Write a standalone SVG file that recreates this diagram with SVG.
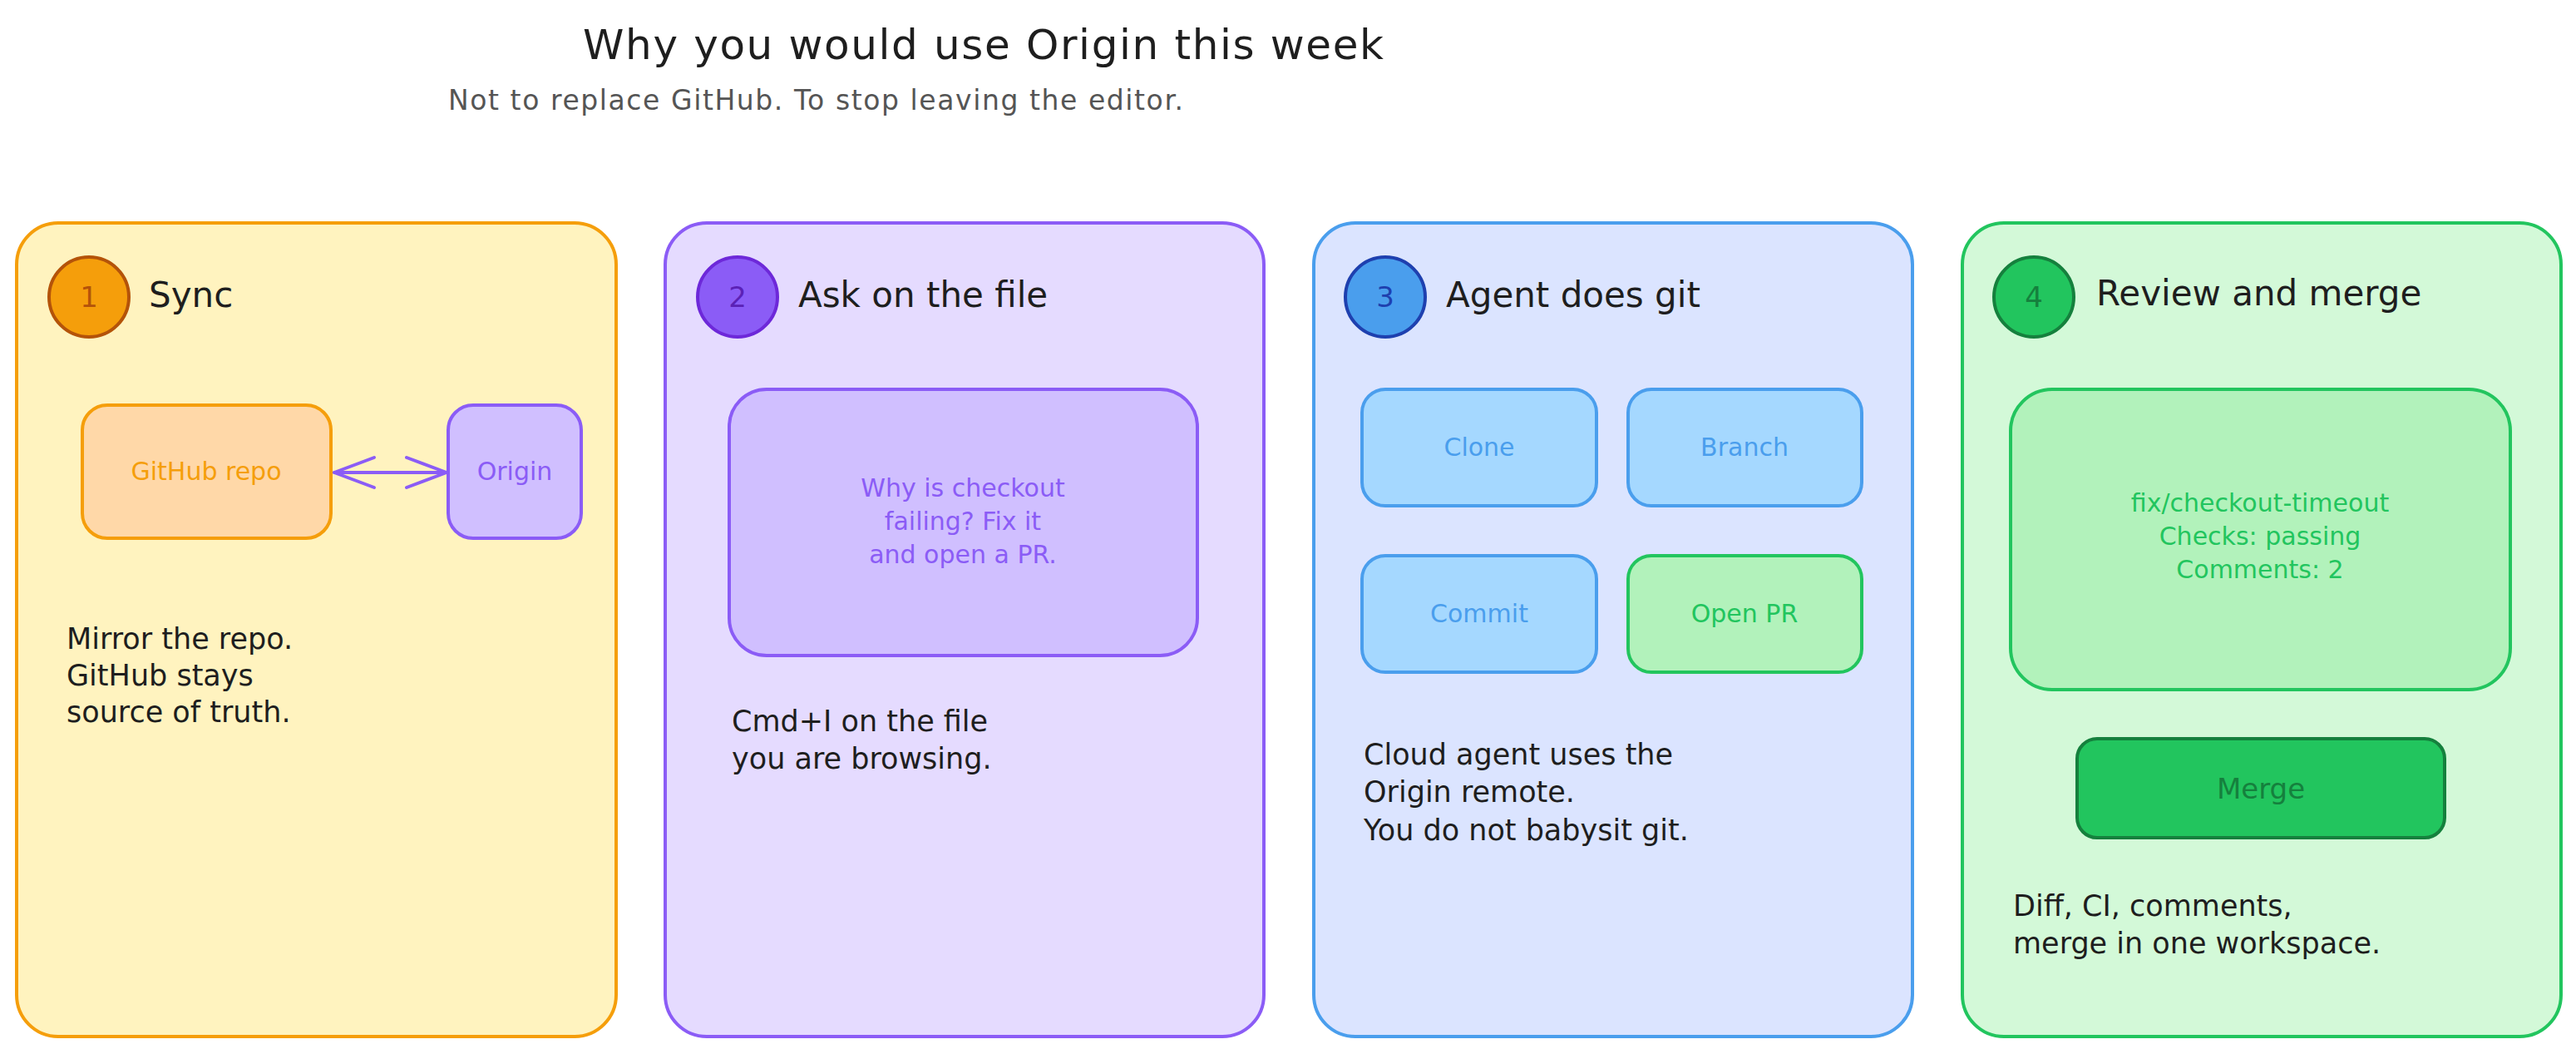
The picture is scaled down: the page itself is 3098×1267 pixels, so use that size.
<svg xmlns="http://www.w3.org/2000/svg" width="3098" height="1267" viewBox="0 0 3098 1267">
<defs>
<style>
text{font-family:"DejaVu Sans","Liberation Sans",sans-serif;}
.ttl{font-size:50px;fill:#1e1e1e;}
.sub{font-size:33px;fill:#555555;}
.head{font-size:42px;fill:#1e1e1e;}
.body{font-size:35px;fill:#1e1e1e;}
.lbl{font-size:30px;text-anchor:middle;}
.num{font-size:34px;text-anchor:middle;}
.panel{stroke-width:4;}
.box{stroke-width:4;}
.orange{fill:#fff3bf;stroke:#f59e0b;}
.violet{fill:#e5dbff;stroke:#8b5cf6;}
.blue{fill:#dbe4ff;stroke:#4a9eed;}
.green{fill:#d3f9d8;stroke:#22c55e;}
</style>
<marker id="arr" viewBox="-54 -24 60 48" refX="0" refY="0" markerWidth="60" markerHeight="48" markerUnits="userSpaceOnUse" orient="auto-start-reverse">
<path d="M-48,-18 L0,0 L-48,18" fill="none" stroke="#8b5cf6" stroke-width="4" stroke-linecap="round" stroke-linejoin="round"/>
</marker>
</defs>
<rect width="3098" height="1267" fill="#ffffff"/>

<g id="title">
<text class="ttl" x="701" y="71" textLength="963" lengthAdjust="spacing">Why you would use Origin this week</text>
<text class="sub" x="539" y="132" textLength="884" lengthAdjust="spacing">Not to replace GitHub. To stop leaving the editor.</text>
</g>

<g id="panel-sync">
<rect class="panel orange" x="20" y="268" width="721" height="978" rx="50"/>
<circle cx="107" cy="357" r="48" fill="#f59e0b" stroke="#b45309" stroke-width="4"/>
<text class="num" x="107" y="369" fill="#b45309">1</text>
<text class="head" x="179" y="369">Sync</text>
<text class="body" x="80" y="780">Mirror the repo.</text>
<text class="body" x="80" y="824">GitHub stays</text>
<text class="body" x="80" y="868">source of truth.</text>
</g>
<g id="node-github">
<rect class="box" x="99" y="487" width="299" height="160" rx="30" fill="#ffd8a8" stroke="#f59e0b"/>
<text class="lbl" x="248" y="577" fill="#f59e0b">GitHub repo</text>
</g>
<g id="node-origin">
<rect class="box" x="539" y="487" width="160" height="160" rx="30" fill="#d0bfff" stroke="#8b5cf6"/>
<text class="lbl" x="619" y="577" fill="#8b5cf6">Origin</text>
</g>

<g id="panel-ask">
<rect class="panel violet" x="800" y="268" width="720" height="978" rx="50"/>
<circle cx="887" cy="357" r="48" fill="#8b5cf6" stroke="#6d28d9" stroke-width="4"/>
<text class="num" x="887" y="369" fill="#5b21b6">2</text>
<text class="head" x="960" y="369">Ask on the file</text>
<text class="body" x="880" y="879">Cmd+I on the file</text>
<text class="body" x="880" y="924">you are browsing.</text>
</g>
<g id="node-ask-prompt">
<rect class="box" x="877" y="468" width="563" height="320" rx="45" fill="#d0bfff" stroke="#8b5cf6"/>
<text class="lbl" x="1158" y="597" fill="#8b5cf6">Why is checkout</text>
<text class="lbl" x="1158" y="637" fill="#8b5cf6">failing? Fix it</text>
<text class="lbl" x="1158" y="677" fill="#8b5cf6">and open a PR.</text>
</g>

<g id="panel-agent">
<rect class="panel blue" x="1580" y="268" width="720" height="978" rx="50"/>
<circle cx="1666" cy="357" r="48" fill="#4a9eed" stroke="#1e40af" stroke-width="4"/>
<text class="num" x="1666" y="369" fill="#1e40af">3</text>
<text class="head" x="1739" y="369">Agent does git</text>
<text class="body" x="1640" y="919">Cloud agent uses the</text>
<text class="body" x="1640" y="964">Origin remote.</text>
<text class="body" x="1640" y="1010">You do not babysit git.</text>
</g>
<g id="node-clone">
<rect class="box" x="1638" y="468" width="282" height="140" rx="28" fill="#a5d8ff" stroke="#4a9eed"/>
<text class="lbl" x="1779" y="548" fill="#4a9eed">Clone</text>
</g>
<g id="node-branch">
<rect class="box" x="1958" y="468" width="281" height="140" rx="28" fill="#a5d8ff" stroke="#4a9eed"/>
<text class="lbl" x="2098" y="548" fill="#4a9eed">Branch</text>
</g>
<g id="node-commit">
<rect class="box" x="1638" y="668" width="282" height="140" rx="28" fill="#a5d8ff" stroke="#4a9eed"/>
<text class="lbl" x="1779" y="748" fill="#4a9eed">Commit</text>
</g>
<g id="node-openpr">
<rect class="box" x="1958" y="668" width="281" height="140" rx="28" fill="#b2f2bb" stroke="#22c55e"/>
<text class="lbl" x="2098" y="748" fill="#22c55e">Open PR</text>
</g>

<g id="panel-review">
<rect class="panel green" x="2360" y="268" width="720" height="978" rx="50"/>
<circle cx="2446" cy="357" r="48" fill="#22c55e" stroke="#15803d" stroke-width="4"/>
<text class="num" x="2446" y="369" fill="#15803d">4</text>
<text class="head" x="2521" y="367">Review and merge</text>
<text class="body" x="2421" y="1101">Diff, CI, comments,</text>
<text class="body" x="2421" y="1146">merge in one workspace.</text>
</g>
<g id="node-pr-card">
<rect class="box" x="2418" y="468" width="601" height="361" rx="50" fill="#b2f2bb" stroke="#22c55e"/>
<text class="lbl" x="2718" y="615" fill="#22c55e" font-size="31">fix/checkout-timeout</text>
<text class="lbl" x="2718" y="655" fill="#22c55e" font-size="31">Checks: passing</text>
<text class="lbl" x="2718" y="695" fill="#22c55e" font-size="31">Comments: 2</text>
</g>
<g id="node-merge">
<rect class="box" x="2498" y="888" width="442" height="119" rx="24" fill="#22c55e" stroke="#15803d"/>
<text x="2719" y="960" font-size="34" text-anchor="middle" fill="#15803d">Merge</text>
</g>

<g id="connectors">
<line x1="402" y1="568" x2="537" y2="568" stroke="#8b5cf6" stroke-width="4" stroke-linecap="round" marker-start="url(#arr)" marker-end="url(#arr)"/>
</g>
</svg>
